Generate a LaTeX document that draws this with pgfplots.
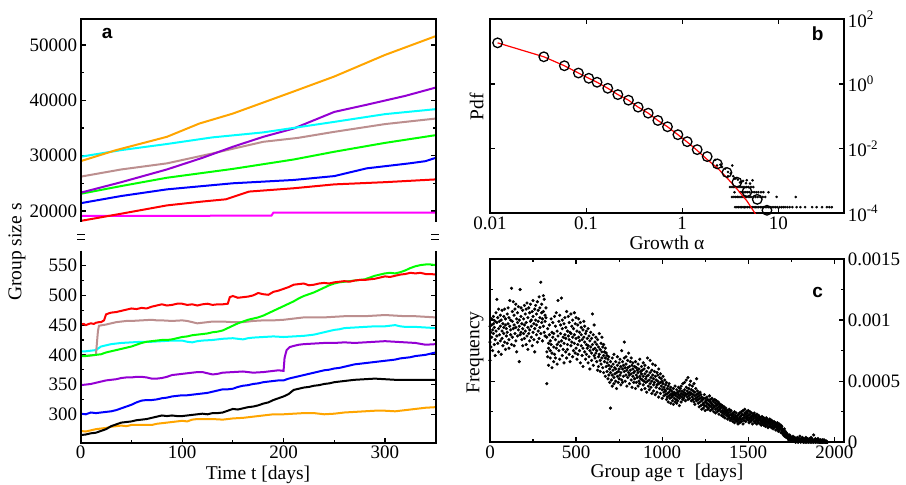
\documentclass[border=0pt]{standalone}
\usepackage{fontspec}
\setmainfont{Liberation Serif}
\newfontfamily\labfont{Liberation Sans}
\usepackage{pgfplots}
\pgfplotsset{compat=1.18}
\definecolor{cOrange}{RGB}{255,165,0}
\definecolor{cPurple}{RGB}{148,0,211}
\definecolor{cCyan}{RGB}{0,255,255}
\definecolor{cBrown}{RGB}{188,143,143}
\definecolor{cGreen}{RGB}{0,255,0}
\definecolor{cBlue}{RGB}{0,0,255}
\definecolor{cRed}{RGB}{255,0,0}
\definecolor{cMag}{RGB}{255,0,255}
\pgfplotsset{
  every axis/.append style={
    scale only axis,
    clip mode=individual,
    axis line style={line width=1.8pt},
    every tick/.style={black, line width=1.2pt},
    major tick length=5pt, minor tick length=3pt,
    tick align=inside,
    scaled ticks=false,
    /pgf/number format/assume math mode=true,
    /pgf/number format/1000 sep={},
    tick label style={font=\rmfamily\fontsize{19}{19}\selectfont},
  },
  ser/.style={line width=2pt, no markers},
}
\newcommand{\tp}[1]{10\raisebox{0.85ex}{\fontsize{13}{13}\selectfont #1}}
\begin{document}
\begin{tikzpicture}
\useasboundingbox (0,0) rectangle (906pt,485pt);
% ---------------- panel a, top ----------------
\begin{axis}[name=atop, at={(80.7pt,263pt)}, anchor=south west,
  width=355pt, height=203pt,
  xmin=0, xmax=350, ymin=18000, ymax=54700,
  xtick=\empty, ytick={20000,30000,40000,50000}, minor y tick num=1,
  axis line style={draw=none}]
\addplot[ser, cMag] coordinates {(0,19100)(100,19120)(188,19150)(190,19700)(260,19680)(350,19700)};
\addplot[ser, cRed] coordinates {(0,18200)(40,19500)(85,21000)(120,21700)(143,22100)(166,23500)(210,24100)(250,24800)(300,25200)(350,25700)};
\addplot[ser, cBlue] coordinates {(0,21400)(40,22700)(85,23900)(150,25000)(210,25600)(250,26300)(282,27700)(324,28600)(340,29000)(350,29600)};
\addplot[ser, cGreen] coordinates {(0,23100)(40,24500)(85,26000)(150,27600)(210,29300)(250,30700)(300,32300)(350,33700)};
\addplot[ser, cBrown] coordinates {(0,26200)(40,27500)(85,28600)(130,30400)(180,32500)(214,33200)(250,34300)(300,35700)(350,36700)};
\addplot[ser, cPurple] coordinates {(0,23300)(40,25200)(85,27500)(120,29600)(150,31600)(180,33400)(210,34900)(250,37900)(282,39200)(320,40800)(350,42300)};
\addplot[ser, cCyan] coordinates {(0,29800)(40,31000)(85,32100)(130,33300)(180,34200)(250,36100)(300,37500)(350,38400)};
\addplot[ser, cOrange] coordinates {(0,29000)(35,31000)(85,33400)(117,35800)(150,37600)(210,41600)(250,44300)(300,48200)(350,51600)};
\draw[line width=1.8pt] (rel axis cs:0,0) -- (rel axis cs:0,1) -- (rel axis cs:1,1) -- (rel axis cs:1,0);
\node[font=\labfont\bfseries\fontsize{19}{19}\selectfont] at (axis cs:26,52000) {a};
\end{axis}
% ---------------- panel a, bottom ----------------
\begin{axis}[name=alow, at={(80.7pt,42.3pt)}, anchor=south west,
  width=355pt, height=192pt,
  xmin=0, xmax=350, ymin=252.2, ymax=575.2,
  xtick={0,100,200,300}, minor x tick num=1, xtick pos=left,
  ytick={300,350,400,450,500,550}, minor y tick num=1,
  axis line style={draw=none}]
\addplot[ser, cOrange] coordinates {(0,272)(5,271)(10,273)(15,275)(20,276)(25,277)(30,279)(35,280)(40,281)(45,280)(50,282)(60,282)(70,282)(75,284)(80,285)(85,286)(90,287)(95,288)(100,289)(105,288)(110,291)(115,292)(120,292)(130,292)(140,291)(150,293)(160,294)(170,296)(180,298)(190,300)(200,300)(210,301)(220,302)(230,302)(240,300)(250,301)(260,303)(270,304)(280,305)(290,306)(300,306)(310,305)(320,307)(330,309)(340,311)(350,312)};
\addplot[ser, black] coordinates {(0,265)(5,266)(10,268)(15,269)(20,272)(25,275)(30,280)(35,283)(40,286)(45,287)(50,288)(55,290)(60,291)(65,292)(70,294)(75,296)(80,298)(85,297)(90,298)(95,297)(100,297)(105,298)(110,299)(115,300)(120,301)(125,300)(130,302)(135,302)(140,303)(145,306)(150,309)(155,308)(160,310)(165,312)(170,313)(175,315)(180,318)(185,320)(190,324)(195,327)(200,330)(205,334)(210,341)(215,343)(220,345)(225,346)(230,348)(235,349)(240,351)(245,352)(250,354)(255,355)(260,356)(265,357)(270,358)(280,359)(290,360)(300,359)(310,358)(320,358)(335,358)(350,358)};
\addplot[ser, cBlue] coordinates {(0,301)(5,300)(10,303)(15,302)(20,303)(25,304)(30,305)(35,307)(40,310)(45,313)(50,316)(55,320)(60,323)(65,324)(70,324)(75,325)(80,327)(85,328)(90,330)(95,331)(100,332)(105,332)(110,333)(115,334)(120,335)(125,336)(130,338)(135,340)(140,342)(145,342)(150,343)(155,346)(160,348)(165,349)(170,351)(175,352)(180,354)(185,355)(190,356)(195,357)(200,357)(205,360)(210,362)(215,364)(220,366)(225,368)(230,370)(235,372)(240,374)(245,375)(250,377)(255,378)(260,380)(265,382)(270,384)(275,385)(280,386)(285,387)(290,388)(295,389)(300,390)(305,391)(310,392)(315,394)(320,395)(325,396)(330,398)(335,399)(340,400)(345,402)(350,404)};
\addplot[ser, cPurple] coordinates {(0,349)(5,350)(10,351)(15,353)(20,355)(25,357)(30,358)(35,359)(40,361)(45,362)(50,362)(55,363)(60,363)(65,362)(70,360)(75,360)(80,361)(85,363)(90,366)(95,367)(100,368)(105,369)(110,370)(115,371)(120,371)(125,369)(130,367)(135,368)(140,370)(150,371)(160,372)(170,370)(180,371)(190,373)(195,374)(200,373)(201,395)(203,408)(206,413)(210,415)(215,417)(220,418)(230,419)(240,420)(250,420)(260,421)(270,420)(280,421)(290,422)(300,423)(310,422)(320,421)(330,420)(340,417)(350,418)};
\addplot[ser, cCyan] coordinates {(0,406)(5,406)(10,407)(15,408)(20,414)(25,416)(30,418)(35,419)(40,420)(50,421)(60,422)(70,422)(80,423)(90,424)(100,424)(105,422)(110,421)(115,423)(120,424)(130,425)(140,427)(150,428)(155,427)(160,426)(165,428)(170,429)(180,430)(190,431)(200,430)(210,431)(220,432)(225,433)(230,434)(235,436)(240,438)(245,440)(250,442)(255,443)(260,445)(270,446)(280,447)(290,448)(300,448)(305,449)(310,450)(315,448)(320,447)(330,447)(340,446)(350,445)};
\addplot[ser, cBrown] coordinates {(0,398)(10,399)(15,400)(16,420)(17,440)(18,449)(25,451)(30,453)(35,455)(40,456)(45,457)(50,457)(60,458)(70,459)(75,458)(80,458)(90,457)(100,458)(105,457)(110,455)(115,453)(120,454)(130,456)(140,456)(150,455)(160,455)(165,456)(170,457)(180,458)(190,458)(200,459)(210,461)(220,463)(230,463)(240,463)(250,464)(260,465)(270,465)(280,465)(290,466)(300,467)(310,466)(320,465)(330,465)(340,464)(350,463)};
\addplot[ser, cGreen] coordinates {(0,398)(5,398)(10,399)(15,400)(20,401)(25,404)(30,406)(35,408)(40,410)(45,412)(50,414)(55,417)(60,420)(65,422)(70,423)(75,424)(80,425)(85,425)(90,426)(95,428)(100,430)(105,431)(110,433)(115,434)(120,435)(125,436)(130,438)(135,439)(140,441)(145,445)(150,449)(155,453)(160,456)(165,459)(170,461)(175,463)(180,466)(185,470)(190,474)(195,478)(200,482)(205,486)(210,490)(215,495)(220,499)(225,502)(230,505)(235,509)(240,513)(245,517)(250,520)(255,522)(260,523)(265,524)(270,525)(275,526)(280,527)(285,530)(290,533)(295,535)(300,537)(305,538)(310,537)(315,539)(320,542)(325,546)(330,549)(335,551)(340,552)(345,552)(350,551)};
\addplot[ser, cRed] coordinates {(0,451)(3,452)(5,450)(8,452)(10,453)(13,452)(15,454)(18,455)(20,455)(23,458)(25,468)(28,470)(30,471)(35,472)(40,474)(45,476)(50,478)(55,477)(60,479)(65,478)(70,481)(75,483)(80,485)(85,483)(90,484)(95,486)(100,486)(105,484)(110,485)(115,483)(120,485)(125,486)(130,484)(135,485)(140,485)(145,486)(147,497)(150,499)(155,496)(160,497)(165,498)(170,500)(175,504)(180,502)(185,501)(190,506)(195,508)(200,511)(205,514)(210,518)(215,519)(220,520)(225,517)(230,518)(235,520)(240,521)(245,520)(250,522)(255,523)(260,524)(265,523)(270,525)(275,526)(280,526)(285,527)(290,528)(295,530)(300,532)(305,531)(310,533)(315,535)(320,536)(325,538)(330,537)(335,538)(340,536)(345,536)(350,535)};
\draw[line width=1.8pt] (rel axis cs:0,1) -- (rel axis cs:0,0) -- (rel axis cs:1,0) -- (rel axis cs:1,1);
\end{axis}
\foreach \xx in {81pt,435pt}{
  \draw[line width=1pt] (\xx-4pt,250pt) -- (\xx+4pt,250pt);
  \draw[line width=1pt] (\xx-4pt,245pt) -- (\xx+4pt,245pt);
}
\node[rotate=90, font=\fontsize{19.5}{20}\selectfont] at (17pt,233pt) {Group size s};
\node[anchor=base, font=\fontsize{19.5}{20}\selectfont] at (258pt,5.7pt) {Time t [days]};
% ---------------- panel b ----------------
\begin{axis}[name=pb, at={(490pt,271.7pt)}, anchor=south west,
  width=354.3pt, height=194pt,
  xmode=log, ymode=log,
  xmin=0.01, xmax=48.6, ymin=1e-4, ymax=1e2,
  xtick={0.01,0.1,1,10}, xticklabels={0.01,0.1,1,10},
  ytick={1e-4,1e-2,1,1e2}, yticklabels={\tp{-4},\tp{-2},\tp{0},\tp{2}},
  yticklabel pos=right,
  minor tick style={draw=none}]
\addplot[only marks, mark=*, mark size=1.1pt, black] coordinates {
(3.55,1.55e-4)(3.7,1.55e-4)(3.85,1.55e-4)(4.0,1.55e-4)(4.15,1.55e-4)(4.3,1.55e-4)(4.45,1.55e-4)(4.6,1.55e-4)(4.8,1.55e-4)(5.0,1.55e-4)(5.2,1.55e-4)(5.4,1.55e-4)(5.6,1.55e-4)(5.8,1.55e-4)(6.0,1.55e-4)(6.25,1.55e-4)(6.5,1.55e-4)(6.75,1.55e-4)(7.0,1.55e-4)(7.3,1.55e-4)(7.6,1.55e-4)(7.9,1.55e-4)(8.2,1.55e-4)(8.6,1.55e-4)(9.0,1.55e-4)(9.4,1.55e-4)(9.8,1.55e-4)(10.3,1.55e-4)(10.8,1.55e-4)(11.3,1.55e-4)(11.8,1.55e-4)(12.4,1.55e-4)(13.1,1.55e-4)(14.0,1.55e-4)(15.5,1.55e-4)(17.0,1.55e-4)(19.0,1.55e-4)(22.5,1.55e-4)(25.0,1.55e-4)(28.5,1.55e-4)(32.0,1.55e-4)(34.0,1.55e-4)(36.0,1.55e-4)
(3.3,3.2e-4)(3.45,3.2e-4)(3.6,3.2e-4)(3.75,3.2e-4)(3.9,3.2e-4)(4.1,3.2e-4)(4.3,3.2e-4)(4.5,3.2e-4)(4.7,3.2e-4)(4.95,3.2e-4)(5.2,3.2e-4)(5.5,3.2e-4)(5.8,3.2e-4)(6.1,3.2e-4)(6.5,3.2e-4)(6.9,3.2e-4)(7.3,3.2e-4)(9.6,3.2e-4)(15.2,3.2e-4)
(3.5,4.5e-4)(4.0,4.5e-4)(4.2,4.5e-4)(4.4,4.5e-4)(4.6,4.5e-4)(4.8,4.5e-4)(5.0,4.5e-4)(5.3,4.5e-4)(5.6,4.5e-4)(5.9,4.5e-4)(6.2,4.5e-4)(6.6,4.5e-4)(7.0,4.5e-4)(7.9,4.5e-4)
(3.15,6.5e-4)(3.3,6.5e-4)(3.45,6.5e-4)(3.6,6.5e-4)(3.8,6.5e-4)(4.0,6.5e-4)(4.2,6.5e-4)(4.4,6.5e-4)(4.65,6.5e-4)(4.9,6.5e-4)(5.2,6.5e-4)(5.5,6.5e-4)
(2.2,0.0045)(2.3,0.0030)(2.5,0.0032)(2.6,0.0027)(2.8,0.0024)(3.0,0.0019)(3.2,0.0017)(3.32,0.0030)(3.4,0.0014)(3.5,0.0012)(3.8,0.0011)(4.0,0.0009)(4.3,0.0010)(4.6,0.00085)(4.69,0.00105)(5.08,0.00083)(5.4,0.00105)(3.0,0.0014)(3.6,0.0012)(4.1,0.00092)
};
\addplot[cRed, line width=1.2pt, no markers] coordinates {(0.012,18.7)(0.0363,6.93)(0.0594,3.66)(0.0832,2.18)(0.1066,1.50)(0.13,1.13)(0.168,0.736)(0.214,0.469)(0.276,0.315)(0.348,0.192)(0.443,0.125)(0.558,0.0743)(0.703,0.0475)(0.902,0.027)(1.127,0.0160)(1.432,0.0088)(1.82,0.0046)(2.32,0.00254)(2.92,0.00125)(3.71,0.00057)(4.72,0.00024)(5.66,0.000105)(6.0,0.00008)};
\addplot[only marks, mark=o, mark size=4.8pt, mark options={fill=white, draw=black, line width=1.3pt}] coordinates {(0.0120,18.7)(0.0363,6.93)(0.0594,3.66)(0.0832,2.18)(0.1066,1.50)(0.130,1.13)(0.168,0.736)(0.214,0.469)(0.276,0.315)(0.348,0.192)(0.443,0.125)(0.558,0.0743)(0.703,0.0475)(0.902,0.0270)(1.127,0.0164)(1.432,0.00931)(1.82,0.00568)(2.32,0.00337)(2.92,0.00183)(3.71,0.000918)(4.72,0.000466)(6.04,0.000270)(7.62,0.000124)};
\node[font=\labfont\bfseries\fontsize{19}{19}\selectfont] at (rel axis cs:0.925,0.925) {b};
\end{axis}
\node[rotate=90, font=\fontsize{19.5}{20}\selectfont] at (476.7pt,378pt) {Pdf};
\node[anchor=base, font=\fontsize{19.5}{20}\selectfont] at (667pt,235pt) {Growth α};
% ---------------- panel c ----------------
\begin{axis}[name=pc, at={(490pt,42.7pt)}, anchor=south west,
  width=354.3pt, height=183.3pt,
  xmin=0, xmax=2058, ymin=0, ymax=15,
  xtick={0,500,1000,1500,2000}, minor x tick num=1,
  ytick={0,5,10,15}, yticklabels={0,0.0005,0.001,0.0015}, minor y tick num=1,
  yticklabel pos=right]
\addplot[only marks, mark=*, mark size=1.4pt, black] table {
x y
0 8.2
0 9.5
0 6.7
5 9.0
5 7.8
10 9.6
10 8.6
10 10.1
15 7.5
15 9.2
20 8.9
20 10.3
20 9.7
25 8.0
25 9.4
30 9.9
30 8.4
30 7.1
35 10.6
35 9.1
40 8.7
40 11.7
40 9.8
45 8.1
45 10.2
50 9.3
50 7.4
50 10.9
55 8.8
55 9.9
60 10.4
60 8.3
60 9.5
65 7.2
65 10.0
70 9.1
70 10.8
70 8.5
75 9.7
75 7.9
80 10.3
80 8.9
80 9.4
85 8.2
85 10.9
90 9.6
90 7.6
90 10.1
95 8.7
95 9.3
100 10.5
100 9.0
100 8.1
105 11.0
105 9.7
110 8.4
110 10.2
110 7.7
115 9.5
115 11.6
120 8.8
120 10.0
120 9.2
125 12.6
125 8.0
130 9.9
130 10.7
130 8.6
135 11.5
135 9.3
140 7.9
140 10.4
140 9.6
145 8.9
145 10.9
150 9.4
150 11.3
150 8.3
155 10.1
155 7.4
160 9.8
160 8.7
160 10.6
165 9.2
165 11.1
170 6.6
170 10.0
170 9.5
175 12.5
175 8.8
180 10.3
180 9.0
180 11.0
185 8.4
185 9.7
190 10.8
190 9.3
190 7.9
195 10.1
195 8.9
200 9.6
200 11.2
200 8.5
205 10.5
205 9.1
210 8.0
210 10.9
210 9.8
215 11.4
215 8.7
220 9.4
220 10.2
220 7.6
225 8.9
225 11.0
230 10.6
230 9.2
230 8.3
235 9.9
235 11.3
240 8.6
240 10.0
240 9.5
245 10.7
245 7.9
250 9.0
250 11.6
250 10.3
255 8.4
255 9.7
260 10.9
260 9.3
260 7.4
265 11.2
265 10.0
270 8.8
270 9.6
270 10.5
275 11.5
275 8.2
280 9.9
280 10.8
280 9.1
285 8.5
285 11.9
290 10.2
290 9.4
290 11.0
295 13.1
295 8.9
300 10.6
300 9.8
300 11.3
305 8.3
305 10.1
310 12.0
310 9.5
310 10.7
315 9.0
315 11.7
320 10.4
320 8.7
320 9.9
325 11.0
325 10.2
330 4.8
330 8.6
330 7.4
335 9.3
335 7.0
340 8.1
340 6.3
340 7.7
345 8.8
345 9.6
350 6.9
350 8.3
350 7.5
355 10.1
355 8.0
360 7.3
360 9.0
360 6.1
365 8.6
365 9.8
370 7.8
370 6.6
370 8.9
375 10.3
375 7.2
380 8.4
380 9.5
380 6.9
385 7.7
385 10.6
390 9.1
390 8.0
390 6.4
395 11.6
395 8.7
400 9.9
400 7.5
400 8.2
405 10.4
405 6.8
410 8.9
410 9.6
410 7.9
415 11.8
415 8.3
420 7.1
420 9.3
420 10.0
425 8.6
425 7.6
430 9.7
430 8.1
430 6.5
435 10.2
435 8.8
440 7.4
440 9.4
440 8.5
445 6.9
445 10.7
450 8.0
450 9.1
450 7.6
455 8.7
455 10.3
460 7.2
460 9.8
460 8.4
465 6.6
465 9.0
470 8.9
470 7.9
470 10.5
475 8.2
475 9.5
480 7.0
480 8.6
480 10.0
485 9.3
485 7.5
490 8.1
490 10.6
490 8.8
495 7.3
495 9.7
500 8.5
500 10.2
500 7.7
505 9.1
505 6.8
510 8.0
510 9.6
510 7.2
515 10.1
515 8.6
520 7.5
520 9.0
520 8.3
525 6.5
525 9.8
530 8.8
530 7.9
530 9.4
535 7.1
535 8.4
540 9.2
540 7.7
540 6.2
545 8.6
545 9.9
550 7.4
550 8.2
550 9.5
555 6.8
555 8.9
560 8.0
560 7.2
560 9.1
565 7.7
565 8.5
570 6.5
570 9.3
570 7.9
575 8.7
575 7.0
580 6.0
580 8.3
580 7.5
585 9.0
585 7.8
590 8.5
590 6.7
590 7.3
595 10.5
595 8.0
600 7.6
600 6.3
600 8.8
605 7.1
605 9.6
610 8.2
610 6.9
610 7.7
615 7.3
615 8.6
620 6.6
620 8.0
620 7.5
625 5.9
625 8.4
630 7.0
630 7.8
630 6.2
635 8.9
635 7.2
640 6.7
640 7.6
640 5.8
645 8.1
645 6.4
650 7.4
650 6.9
650 8.6
655 6.1
655 7.8
660 7.1
660 5.7
660 8.0
665 6.6
665 7.4
670 5.4
670 6.9
670 7.7
675 6.2
675 7.3
680 5.8
680 6.5
680 7.1
685 5.2
685 6.8
690 6.3
690 5.5
690 7.0
695 4.9
695 6.0
700 2.8
700 5.7
700 6.6
705 6.2
705 5.1
710 4.6
710 6.9
710 5.5
715 5.9
715 6.4
720 5.3
720 7.2
720 4.8
725 6.1
725 5.6
730 6.6
730 5.0
730 6.0
735 4.4
735 5.7
740 6.3
740 5.4
740 7.0
745 5.8
745 4.9
750 6.5
750 5.2
750 6.0
755 5.5
755 6.8
760 4.7
760 6.2
760 5.7
765 7.5
765 5.1
770 6.0
770 6.6
770 4.9
775 5.4
775 6.3
780 8.2
780 5.8
780 6.9
785 5.0
785 6.1
790 6.4
790 5.5
790 7.0
795 5.9
795 4.6
800 6.7
800 5.3
800 6.1
805 5.7
805 7.3
810 4.8
810 6.2
810 5.5
815 6.6
815 5.9
820 5.1
820 6.9
820 5.6
825 4.5
825 6.3
830 6.0
830 5.4
830 6.5
835 5.7
835 4.9
840 6.2
840 5.2
840 5.8
845 4.4
845 6.6
850 5.5
850 6.1
850 4.9
855 5.9
855 5.3
860 6.4
860 4.6
860 5.7
865 5.0
865 6.0
870 5.4
870 6.8
870 4.8
875 5.8
875 5.2
880 4.3
880 6.2
880 5.6
885 5.1
885 5.9
890 6.5
890 4.7
890 5.4
895 5.0
895 6.0
900 5.6
900 4.4
900 6.3
905 5.2
905 4.9
910 5.8
910 4.1
910 5.4
915 6.9
915 5.0
920 4.6
920 5.5
920 6.1
925 5.1
925 4.3
930 5.7
930 4.8
930 6.7
935 5.3
935 4.5
940 4.0
940 5.9
940 5.0
945 5.5
945 6.4
950 4.7
950 5.2
950 4.2
955 5.8
955 4.9
960 5.4
960 3.9
960 6.3
965 4.5
965 5.1
970 5.7
970 4.7
970 4.1
975 5.0
975 5.5
980 3.7
980 4.8
980 6.0
985 5.3
985 4.4
990 4.9
990 5.6
990 4.0
995 4.6
995 5.2
1000 4.3
1000 5.0
1000 3.6
1005 4.8
1005 5.4
1010 4.1
1010 4.5
1010 3.8
1015 5.1
1015 4.3
1020 3.9
1020 4.7
1020 4.2
1025 3.5
1025 4.9
1030 4.4
1030 3.7
1030 4.0
1035 4.6
1035 3.3
1040 4.1
1040 3.8
1040 4.8
1045 3.6
1045 4.3
1050 3.9
1050 4.5
1050 3.2
1055 4.2
1055 3.7
1060 3.4
1060 4.0
1060 3.8
1065 4.4
1065 3.1
1070 3.6
1070 4.1
1070 3.9
1075 3.3
1075 4.6
1080 4.0
1080 3.5
1080 3.8
1085 4.3
1085 3.2
1090 3.7
1090 4.1
1090 3.4
1095 4.5
1095 3.9
1100 3.6
1100 4.2
1100 3.0
1105 3.8
1105 4.4
1110 4.0
1110 3.3
1110 4.6
1115 3.7
1115 4.2
1120 4.8
1120 3.5
1120 3.9
1125 4.1
1125 3.6
1130 4.3
1130 3.8
1130 4.9
1135 3.4
1135 4.0
1140 4.5
1140 3.9
1140 5.1
1145 3.7
1145 4.2
1150 4.0
1150 5.3
1150 3.5
1155 4.4
1155 3.8
1160 4.1
1160 4.7
1160 3.6
1165 3.9
1165 5.0
1170 4.3
1170 3.4
1170 4.0
1175 3.7
1175 4.6
1180 4.2
1180 3.5
1180 3.9
1185 4.8
1185 3.3
1190 3.8
1190 4.1
1190 3.1
1195 4.4
1195 3.6
1200 3.9
1200 5.2
1200 3.4
1205 3.7
1205 4.2
1210 3.2
1210 4.0
1210 3.5
1215 3.8
1215 2.9
1220 4.1
1220 3.3
1220 3.6
1225 3.0
1225 3.9
1230 3.4
1230 2.7
1230 3.7
1235 3.1
1235 3.5
1240 2.8
1240 3.6
1240 3.2
1245 3.9
1245 3.0
1250 3.3
1250 2.6
1250 3.6
1255 3.0
1255 3.4
1260 2.9
1260 3.7
1260 3.2
1265 3.5
1265 2.7
1270 3.1
1270 3.4
1270 2.8
1275 3.8
1275 3.0
1280 3.3
1280 2.6
1280 3.5
1285 2.9
1285 3.2
1290 3.6
1290 2.7
1290 3.1
1295 3.4
1295 2.8
1300 3.0
1300 3.3
1300 2.5
1305 3.5
1305 2.9
1310 2.7
1310 3.2
1310 2.4
1315 3.0
1315 3.4
1320 2.8
1320 2.5
1320 3.1
1325 3.3
1325 2.6
1330 2.9
1330 2.3
1330 3.2
1335 2.7
1335 3.0
1340 2.5
1340 2.8
1340 3.1
1345 2.2
1345 2.9
1350 2.6
1350 3.0
1350 2.4
1355 2.8
1355 2.1
1360 2.5
1360 2.9
1360 2.3
1365 2.7
1365 2.0
1370 2.4
1370 2.8
1370 2.6
1375 2.2
1375 2.5
1380 1.9
1380 2.6
1380 2.3
1385 2.4
1385 2.1
1390 2.0
1390 2.7
1390 2.2
1395 2.5
1395 1.8
1400 2.3
1400 2.0
1400 2.6
1405 1.9
1405 2.2
1410 2.4
1410 1.7
1410 2.1
1415 2.3
1415 1.9
1420 2.0
1420 2.5
1420 1.6
1425 2.2
1425 1.8
1430 2.1
1430 1.9
1430 2.4
1435 1.7
1435 2.0
1440 2.2
1440 1.5
1440 1.9
1445 2.3
1445 1.8
1450 2.0
1450 2.4
1450 1.6
1455 2.1
1455 1.9
1460 2.5
1460 1.7
1460 2.2
1465 1.9
1465 2.3
1470 2.0
1470 1.5
1470 2.6
1475 2.2
1475 1.8
1480 2.4
1480 2.0
1480 2.7
1485 1.7
1485 2.3
1490 2.1
1490 2.5
1490 1.9
1495 2.4
1495 2.0
1500 1.8
1500 2.2
1500 2.6
1505 2.0
1505 1.6
1510 2.3
1510 1.9
1510 2.5
1515 2.1
1515 1.7
1520 2.4
1520 1.8
1520 2.0
1525 2.2
1525 1.5
1530 1.9
1530 2.3
1530 2.1
1535 1.7
1535 2.4
1540 2.0
1540 1.6
1540 2.2
1545 1.8
1545 2.1
1550 2.3
1550 1.9
1550 1.5
1555 2.0
1555 1.7
1560 1.8
1560 2.2
1560 1.6
1565 1.9
1565 2.1
1570 1.5
1570 1.8
1570 2.0
1575 1.7
1575 1.4
1580 1.9
1580 1.6
1580 2.1
1585 1.8
1585 1.5
1590 1.7
1590 2.0
1590 1.4
1595 1.6
1595 1.9
1600 1.8
1600 1.5
1600 1.3
1605 1.7
1605 2.0
1610 1.4
1610 1.6
1610 1.9
1615 1.2
1615 1.7
1620 1.5
1620 1.8
1620 1.6
1625 1.3
1625 1.9
1630 1.6
1630 1.4
1630 1.7
1635 1.8
1635 1.2
1640 1.5
1640 1.3
1640 1.7
1645 1.6
1645 1.1
1650 1.4
1650 1.7
1650 1.2
1655 1.5
1655 1.3
1660 1.6
1660 1.0
1660 1.4
1665 1.2
1665 1.5
1670 1.3
1670 1.1
1670 1.6
1675 1.4
1675 0.9
1680 1.2
1680 1.5
1680 1.0
1685 1.3
1685 1.1
1690 0.8
1690 1.2
1690 1.4
1695 1.0
1695 1.3
1700 1.1
1700 0.7
1700 0.9
1705 1.0
1705 0.6
1710 0.8
1710 1.1
1710 0.5
1715 0.7
1715 0.9
1720 0.6
1720 0.4
1720 0.8
1725 0.5
1725 0.7
1730 0.3
1730 0.6
1730 0.4
1735 0.5
1735 0.2
1740 0.4
1740 0.6
1740 0.3
1745 0.2
1745 0.5
1750 0.3
1750 0.4
1750 0.1
1755 0.2
1755 0.4
1760 0.3
1760 0.1
1760 0.5
1765 0.2
1765 0.3
1770 0.1
1770 0.4
1770 0.2
1775 0.3
1775 0.0
1780 0.2
1780 0.1
1780 0.3
1785 0.4
1785 0.1
1790 0.2
1790 0.0
1790 0.3
1795 0.1
1795 0.2
1800 0.3
1800 0.1
1800 0.5
1805 0.2
1805 0.0
1810 0.1
1810 0.3
1810 0.2
1815 0.4
1815 0.1
1820 0.2
1820 0.0
1820 0.3
1825 0.1
1825 0.2
1830 0.3
1830 0.1
1830 0.0
1835 0.2
1835 0.4
1840 0.1
1840 0.2
1840 0.0
1845 0.3
1845 0.1
1850 0.2
1850 0.0
1850 0.1
1855 0.3
1855 0.2
1860 0.1
1860 0.0
1860 0.2
1865 0.4
1865 0.1
1870 0.2
1870 0.3
1870 0.0
1875 0.1
1875 0.2
1880 0.6
1880 0.1
1880 0.0
1885 0.2
1885 0.1
1890 0.3
1890 0.0
1890 0.2
1895 0.1
1895 0.2
1900 0.0
1900 0.2
1900 0.1
1905 0.1
1905 0.3
1910 0.2
1910 0.0
1910 0.1
1915 0.1
1915 0.0
1920 0.0
1920 0.2
1920 0.1
1925 0.1
1925 0.0
1930 0.2
1930 0.0
1930 0.1
1935 0.0
1935 0.1
1940 0.1
1940 0.0
1940 0.2
1945 0.0
1945 0.1
1950 0.1
1950 0.0
1955 0.0
1955 0.1
1960 0.0
};
\node[font=\labfont\bfseries\fontsize{19}{19}\selectfont] at (rel axis cs:0.925,0.82) {c};
\end{axis}
\node[rotate=90, font=\fontsize{19.5}{20}\selectfont] at (475pt,132.5pt) {Frequency};
\node[anchor=base, font=\fontsize{19.5}{20}\selectfont] at (667pt,7.5pt) {Group age τ\ \ [days]};
\end{tikzpicture}
\end{document}
